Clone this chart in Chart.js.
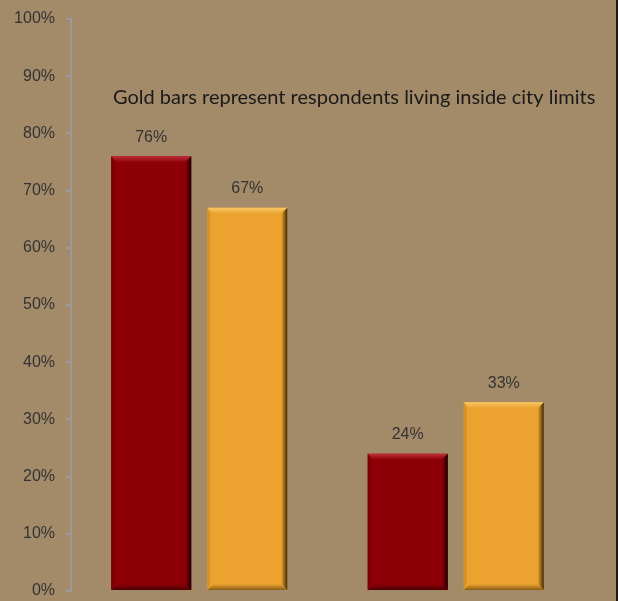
<!DOCTYPE html>
<html>
<head>
<meta charset="utf-8">
<script src="https://cdn.jsdelivr.net/npm/chart.js@4"></script>
<style>
  html, body { margin: 0; padding: 0; background: #a38b6a; }
  #wrap { width: 616px; height: 601px; border-right: 2px solid #1e1a14; }
</style>
</head>
<body>
<div id="wrap"><canvas id="surveyChart" width="616" height="601"></canvas></div>
<script>
// Survey results: red = outside city limits, gold = inside city limits
const groups = ['Group A', 'Group B'];
const redValues = [76, 24];
const goldValues = [67, 33];
const yTicks = [0, 10, 20, 30, 40, 50, 60, 70, 80, 90, 100];
const noteText = 'Gold bars represent respondents living inside city limits';

// Bevel edges on each bar, like a raised 3D button
const bevelPlugin = {
    id: 'bevel',
    afterDatasetsDraw(chart) {
        const ctx = chart.ctx;
        const b = 6;
        chart.data.datasets.forEach((ds, i) => {
            chart.getDatasetMeta(i).data.forEach(bar => {
                const l = bar.x - bar.width / 2, r = bar.x + bar.width / 2;
                const t = bar.y, btm = bar.base;
                ctx.save();
                // top - light
                let g = ctx.createLinearGradient(0, t, 0, t + b);
                g.addColorStop(0, ds.lightEdge);
                g.addColorStop(1, ds.backgroundColor);
                ctx.fillStyle = g;
                ctx.beginPath();
                ctx.moveTo(l, t); ctx.lineTo(r, t); ctx.lineTo(r - b, t + b); ctx.lineTo(l + b, t + b);
                ctx.closePath(); ctx.fill();
                // left - slight shade
                ctx.fillStyle = ds.sideEdge;
                ctx.beginPath();
                ctx.moveTo(l, t); ctx.lineTo(l + b - 3, t + b); ctx.lineTo(l + b - 3, btm - b); ctx.lineTo(l, btm);
                ctx.closePath(); ctx.fill();
                // right - dark
                g = ctx.createLinearGradient(r - b, 0, r, 0);
                g.addColorStop(0, ds.backgroundColor);
                g.addColorStop(1, ds.darkEdge);
                ctx.fillStyle = g;
                ctx.beginPath();
                ctx.moveTo(r, t); ctx.lineTo(r, btm); ctx.lineTo(r - b, btm - b); ctx.lineTo(r - b, t + b);
                ctx.closePath(); ctx.fill();
                // bottom - dark
                g = ctx.createLinearGradient(0, btm - b, 0, btm);
                g.addColorStop(0, ds.backgroundColor);
                g.addColorStop(1, ds.bottomEdge);
                ctx.fillStyle = g;
                ctx.beginPath();
                ctx.moveTo(l, btm); ctx.lineTo(r, btm); ctx.lineTo(r - b, btm - b); ctx.lineTo(l + b, btm - b);
                ctx.closePath(); ctx.fill();
                ctx.restore();
            });
        });
    }
};

// Value labels above the bars and the note inside the plot
const labelPlugin = {
    id: 'labels',
    afterDraw(chart) {
        const ctx = chart.ctx;
        ctx.save();
        ctx.fillStyle = '#333';
        ctx.font = '16px "Liberation Sans", Arial, sans-serif';
        ctx.textAlign = 'center';
        ctx.textBaseline = 'bottom';
        chart.data.datasets.forEach((ds, i) => {
            chart.getDatasetMeta(i).data.forEach((bar, j) => {
                ctx.fillText(ds.data[j] + '%', bar.x, bar.y - 11);
            });
        });
        ctx.fillStyle = '#1a1a1a';
        ctx.font = '20px Lato, "Open Sans", sans-serif';
        ctx.textAlign = 'left';
        ctx.textBaseline = 'middle';
        ctx.fillText(noteText, 113, chart.scales.y.getPixelForValue(86.2));
        ctx.restore();
    }
};

const ctx = document.getElementById('surveyChart').getContext('2d');
new Chart(ctx, {
    type: 'bar',
    data: {
        labels: groups,
        datasets: [
            {
                data: redValues,
                backgroundColor: '#8e0007',
                lightEdge: '#c0303a',
                sideEdge: '#7a0005',
                darkEdge: '#1a0000',
                bottomEdge: '#4a0003',
                categoryPercentage: 0.749,
                barPercentage: 0.833
            },
            {
                data: goldValues,
                backgroundColor: '#eca22f',
                lightEdge: '#f8c868',
                sideEdge: '#d99228',
                darkEdge: '#3d2a08',
                bottomEdge: '#8a5e18',
                categoryPercentage: 0.749,
                barPercentage: 0.833
            }
        ]
    },
    options: {
        responsive: false,
        animation: false,
        layout: { padding: { top: 19, right: 32, bottom: 10, left: 0 } },
        plugins: { legend: { display: false }, tooltip: { enabled: false } },
        scales: {
            x: { display: false },
            y: {
                min: 0,
                max: 100,
                afterBuildTicks: axis => { axis.ticks = yTicks.map(v => ({ value: v })); },
                afterFit: axis => {
                    axis.width = 71;
                    axis.paddingTop = 0;
                    axis.paddingBottom = 0;
                },
                border: { color: '#9a9a9a', width: 2 },
                grid: { drawOnChartArea: false, drawTicks: true, tickLength: 5, color: '#9a9a9a', lineWidth: 2 },
                ticks: {
                    padding: 11,
                    color: '#333',
                    font: { family: '"Liberation Sans", Arial, sans-serif', size: 16 },
                    callback: v => v + '%'
                }
            }
        }
    },
    plugins: [bevelPlugin, labelPlugin]
});
</script>
</body>
</html>
